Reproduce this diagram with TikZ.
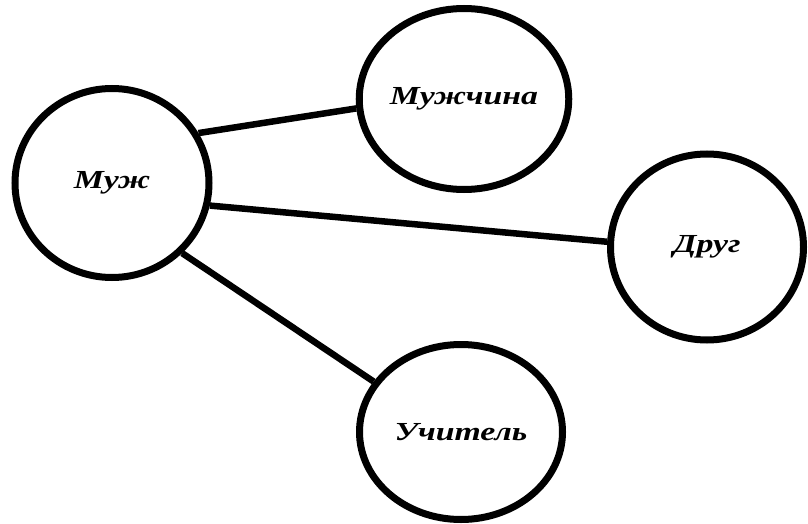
\documentclass[tikz,border=0pt]{standalone}
\usepackage{fontspec}
\setmainfont{Liberation Serif}
\newfontfamily\labelfont[FakeStretch=1.3]{Liberation Serif}
\usetikzlibrary{shapes.geometric}

\begin{document}
\begin{tikzpicture}[x=1pt,y=-1pt]
            \tikzset{vertex/.style = {shape=ellipse,draw,line width=7pt,inner sep=0pt,font=\labelfont\fontsize{26}{30}\selectfont\bfseries\itshape}}
            \tikzset{edge/.style = {line width=6.5pt}}
            \useasboundingbox (0,0) rectangle (808,524);
            \node[vertex,minimum width=194pt,minimum height=189pt] (muzh) at (112,183) {Муж};
            \node[vertex,minimum width=191pt,minimum height=181pt] (muzhchina) at (464,99) {Мужчина};
            \node[vertex,minimum width=193pt,minimum height=186pt] (drug) at (707,247) {Друг};
            \node[vertex,minimum width=203pt,minimum height=175pt] (uchitel) at (461,432) {Учитель};

            \draw[edge] (muzh.30) to (muzhchina.185);
            \draw[edge] (muzh.347) to (drug.177);
            \draw[edge] (muzh.315) to (uchitel.150);
        \end{tikzpicture}
\end{document}
